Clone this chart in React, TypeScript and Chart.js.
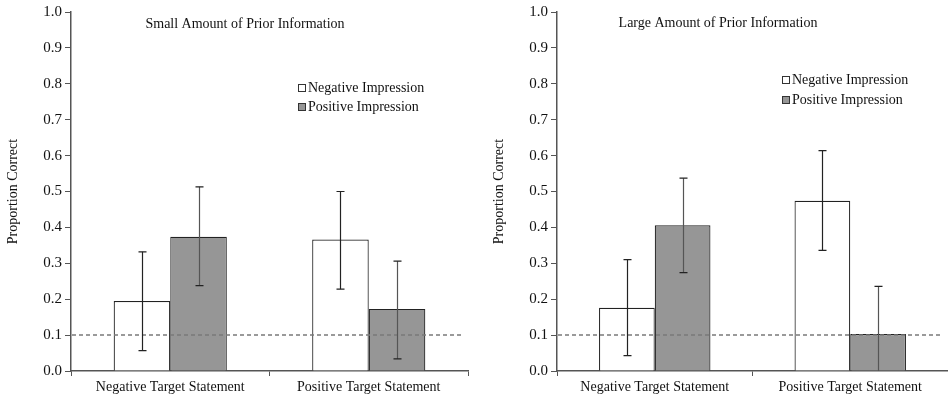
import React, { useEffect, useRef } from "react";
import { Chart, registerables } from "chart.js";

Chart.register(...registerables);

const categories = ["Negative Target Statement", "Positive Target Statement"];
const seriesNames = ["Negative Impression", "Positive Impression"];
const yTicks = [0, 0.1, 0.2, 0.3, 0.4, 0.5, 0.6, 0.7, 0.8, 0.9, 1.0];
const chanceLevel = 0.1;

const smallTitle = "Small Amount of Prior Information";
const smallNeg = [0.195, 0.366];
const smallPos = [0.374, 0.173];
const smallNegLow = [0.057, 0.228];
const smallNegHigh = [0.332, 0.5];
const smallPosLow = [0.238, 0.034];
const smallPosHigh = [0.513, 0.306];

const largeTitle = "Large Amount of Prior Information";
const largeNeg = [0.176, 0.474];
const largePos = [0.406, 0.103];
const largeNegLow = [0.043, 0.336];
const largeNegHigh = [0.31, 0.614];
const largePosLow = [0.274, -0.03];
const largePosHigh = [0.537, 0.236];

const FONT = '"Liberation Serif", "Times New Roman", serif';
const GRAY = "#969696";

type PanelProps = {
  width: number;
  padRight: number;
  title: string;
  titleX: number;
  titleY: number;
  legendX: number;
  legendY: number[];
  neg: number[];
  pos: number[];
  negLow: number[];
  negHigh: number[];
  posLow: number[];
  posHigh: number[];
};

function Panel(p: PanelProps) {
  const ref = useRef<HTMLCanvasElement | null>(null);
  useEffect(() => {
    if (!ref.current) return;
    const overlay = {
      id: "overlay",
      afterDatasetsDraw(chart: any) {
        const ctx = chart.ctx;
        const ca = chart.chartArea;
        const ys = chart.scales.y;
        // dashed chance line
        ctx.save();
        ctx.strokeStyle = "#7a7a7a";
        ctx.lineWidth = 1.5;
        ctx.setLineDash([4, 3]);
        const yc = ys.getPixelForValue(chanceLevel);
        ctx.beginPath();
        ctx.moveTo(ca.left + 1, yc);
        ctx.lineTo(ca.right - 6, yc);
        ctx.stroke();
        ctx.restore();
        // error bars
        ctx.save();
        ctx.beginPath();
        ctx.rect(ca.left, 0, ca.right - ca.left, ca.bottom);
        ctx.clip();
        chart.data.datasets.forEach((ds: any, i: number) => {
          const meta = chart.getDatasetMeta(i);
          meta.data.forEach((bar: any, j: number) => {
            const x = Math.round(bar.x) + 0.5;
            const yl = ys.getPixelForValue(ds.errLow[j]);
            const yh = ys.getPixelForValue(ds.errHigh[j]);
            ctx.lineWidth = 1.2;
            ctx.strokeStyle = ds.errColor;
            ctx.beginPath();
            ctx.moveTo(x, yl);
            ctx.lineTo(x, yh);
            ctx.stroke();
            ctx.strokeStyle = "#222";
            ctx.beginPath();
            ctx.moveTo(x - 4, yl);
            ctx.lineTo(x + 4, yl);
            ctx.moveTo(x - 4, yh);
            ctx.lineTo(x + 4, yh);
            ctx.stroke();
          });
        });
        ctx.restore();
        // title
        ctx.save();
        ctx.fillStyle = "#111";
        ctx.font = "14px " + FONT;
        ctx.textAlign = "center";
        ctx.textBaseline = "middle";
        ctx.fillText(p.title, p.titleX, p.titleY);
        // legend
        ctx.textAlign = "left";
        const fills = ["#ffffff", GRAY];
        seriesNames.forEach((name, k) => {
          const cy = p.legendY[k];
          ctx.fillStyle = fills[k];
          ctx.fillRect(p.legendX + 0.5, cy - 3.5, 7, 7);
          ctx.strokeStyle = "#333";
          ctx.lineWidth = 1;
          ctx.strokeRect(p.legendX + 0.5, cy - 3.5, 7, 7);
          ctx.fillStyle = "#111";
          ctx.fillText(name, p.legendX + 10, cy);
        });
        ctx.restore();
      },
    };
    const chart = new Chart(ref.current, {
      type: "bar",
      data: {
        labels: categories,
        datasets: [
          {
            label: seriesNames[0],
            data: p.neg,
            backgroundColor: "#ffffff",
            borderColor: "#222",
            borderWidth: 1.2,
            errLow: p.negLow,
            errHigh: p.negHigh,
            errColor: "#222",
          } as any,
          {
            label: seriesNames[1],
            data: p.pos,
            backgroundColor: GRAY,
            borderColor: "#222",
            borderWidth: 1.2,
            errLow: p.posLow,
            errHigh: p.posHigh,
            errColor: "#555",
          } as any,
        ],
      },
      options: {
        animation: false,
        responsive: false,
        maintainAspectRatio: false,
        layout: { padding: { top: 12, right: p.padRight, left: 0, bottom: 0 } },
        datasets: { bar: { categoryPercentage: 0.57, barPercentage: 1.0 } },
        plugins: { legend: { display: false }, tooltip: { enabled: false } },
        scales: {
          x: {
            grid: {
              display: true,
              offset: true,
              drawOnChartArea: false,
              tickLength: 5,
              color: "#555",
            },
            border: { color: "#555", width: 1.5 },
            ticks: { color: "#111", font: { family: FONT, size: 14 }, padding: 3, maxRotation: 0 },
            afterFit: (s: any) => {
              s.height = 27;
            },
          },
          y: {
            min: 0,
            max: 1,
            afterBuildTicks: (s: any) => {
              s.ticks = yTicks.map((v) => ({ value: v }));
            },
            grid: { display: true, drawOnChartArea: false, tickLength: 6, color: "#555" },
            border: { color: "#555", width: 1.5 },
            ticks: {
              color: "#111",
              font: { family: FONT, size: 15 },
              padding: 3,
              callback: (v: any) => Number(v).toFixed(1),
            },
            title: {
              display: true,
              text: "Proportion Correct",
              color: "#111",
              font: { family: FONT, size: 14 },
              padding: { top: 5, bottom: 4 },
            },
            afterFit: (s: any) => {
              s.width = 71;
            },
          },
        },
      } as any,
      plugins: [overlay],
    });
    return () => chart.destroy();
  }, []);
  return <canvas ref={ref} width={p.width} height={398} style={{ width: p.width, height: 398, display: "block" }} />;
}

export default function App() {
  return (
    <div style={{ position: "absolute", left: 0, top: 0, width: 948, height: 398, background: "#fff" }}>
      <div style={{ position: "absolute", left: 0, top: 0 }}>
        <Panel
          width={478}
          padRight={10}
          title={smallTitle}
          titleX={245}
          titleY={24}
          legendX={298}
          legendY={[88, 107]}
          neg={smallNeg}
          pos={smallPos}
          negLow={smallNegLow}
          negHigh={smallNegHigh}
          posLow={smallPosLow}
          posHigh={smallPosHigh}
        />
      </div>
      <div style={{ position: "absolute", left: 486, top: 0 }}>
        <Panel
          width={462}
          padRight={0}
          title={largeTitle}
          titleX={232}
          titleY={23}
          legendX={296}
          legendY={[80, 100]}
          neg={largeNeg}
          pos={largePos}
          negLow={largeNegLow}
          negHigh={largeNegHigh}
          posLow={largePosLow}
          posHigh={largePosHigh}
        />
      </div>
    </div>
  );
}
